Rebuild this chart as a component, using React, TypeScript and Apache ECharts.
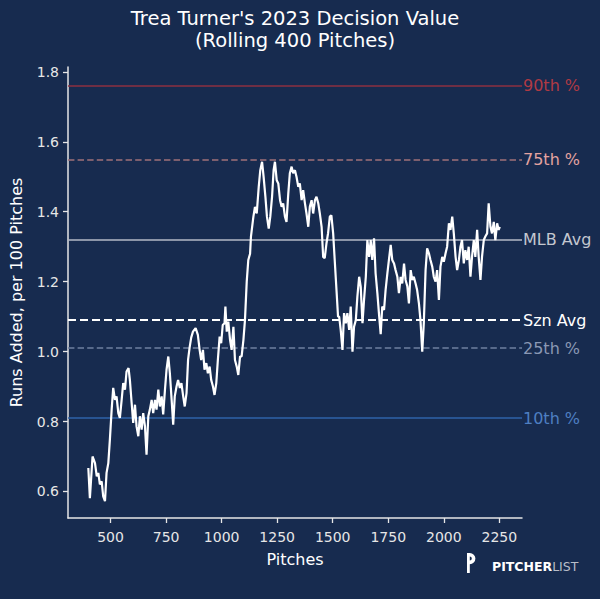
import { useEffect, useRef } from 'react'
import * as echarts from 'echarts'

const pitches = [
  400, 407, 419, 430, 438, 445, 452, 460, 467, 475, 482, 490, 497, 505, 512, 520, 527, 535, 542, 550,
  557, 565, 572, 581, 587, 595, 602, 610, 617, 625, 632, 640, 647, 655, 662, 670, 677, 685, 692, 700,
  707, 715, 722, 730, 737, 745, 752, 760, 767, 775, 782, 789, 797, 804, 812, 819, 827, 834, 842, 849,
  856, 863, 871, 883, 893, 901, 908, 916, 923, 931, 938, 946, 953, 961, 968, 976, 983, 991, 998, 1005,
  1013, 1017, 1023, 1030, 1038, 1045, 1053, 1060, 1068, 1075, 1083, 1090, 1098, 1105, 1113, 1120, 1128, 1132, 1143, 1150,
  1158, 1167, 1174, 1182, 1189, 1197, 1204, 1212, 1219, 1227, 1234, 1240, 1248, 1255, 1263, 1270, 1277, 1285, 1292, 1300,
  1307, 1315, 1322, 1330, 1337, 1345, 1352, 1360, 1367, 1375, 1382, 1390, 1397, 1405, 1412, 1420, 1427, 1435, 1442, 1450,
  1457, 1464, 1472, 1479, 1487, 1494, 1502, 1509, 1517, 1524, 1529, 1536, 1544, 1551, 1559, 1566, 1574, 1581, 1589, 1596,
  1604, 1611, 1619, 1626, 1634, 1641, 1649, 1656, 1664, 1671, 1678, 1686, 1693, 1701, 1708, 1716, 1723, 1731, 1738, 1746,
  1753, 1761, 1768, 1776, 1783, 1791, 1798, 1806, 1813, 1821, 1828, 1836, 1843, 1851, 1858, 1865, 1873, 1880, 1888, 1895,
  1903, 1910, 1918, 1925, 1933, 1940, 1948, 1955, 1963, 1970, 1978, 1985, 1993, 2000, 2008, 2015, 2023, 2030, 2038, 2045,
  2053, 2060, 2068, 2075, 2082, 2090, 2097, 2105, 2112, 2120, 2127, 2135, 2142, 2150, 2157, 2165, 2172, 2180, 2187, 2195,
  2202, 2210, 2217, 2225, 2232, 2240, 2247, 2252
]

const decisionValues = [
  0.667, 0.581, 0.7, 0.681, 0.643, 0.653, 0.62, 0.629, 0.586, 0.572, 0.653, 0.681, 0.748, 0.834, 0.896, 0.862, 0.872, 0.824, 0.81, 0.862,
  0.91, 0.891, 0.943, 0.953, 0.919, 0.853, 0.796, 0.848, 0.786, 0.758, 0.815, 0.777, 0.824, 0.786, 0.705, 0.815, 0.834, 0.862, 0.824, 0.862,
  0.834, 0.891, 0.843, 0.872, 0.82, 0.891, 0.948, 0.986, 0.938, 0.862, 0.791, 0.872, 0.9, 0.919, 0.896, 0.91, 0.872, 0.843, 0.881, 0.977,
  1.012, 1.04, 1.057, 1.067, 1.048, 1.005, 0.976, 1.005, 0.948, 0.967, 0.938, 0.957, 0.919, 0.9, 0.876, 0.91, 0.976, 1.043, 1.024, 1.076,
  1.081, 1.129, 1.057, 1.086, 1.033, 1.005, 1.071, 0.976, 0.957, 0.933, 0.986, 0.986, 1.033, 1.09, 1.2, 1.262, 1.28, 1.329, 1.386, 1.414,
  1.395, 1.471, 1.519, 1.543, 1.5, 1.443, 1.386, 1.352, 1.386, 1.443, 1.519, 1.543, 1.49, 1.481, 1.433, 1.414, 1.424, 1.386, 1.371, 1.452,
  1.51, 1.529, 1.51, 1.519, 1.5, 1.471, 1.481, 1.433, 1.462, 1.424, 1.395, 1.357, 1.414, 1.433, 1.395, 1.433, 1.443, 1.424, 1.395, 1.357,
  1.271, 1.267, 1.31, 1.338, 1.386, 1.39, 1.338, 1.262, 1.176, 1.1, 1.1, 1.062, 1.005, 1.11, 1.081, 1.11, 1.062, 1.129, 1.0, 1.071,
  1.09, 1.157, 1.214, 1.186, 1.081, 1.148, 1.214, 1.319, 1.271, 1.319, 1.262, 1.324, 1.224, 1.167, 1.11, 1.05, 1.129, 1.119, 1.176, 1.224,
  1.262, 1.305, 1.262, 1.252, 1.233, 1.214, 1.167, 1.214, 1.195, 1.252, 1.205, 1.186, 1.138, 1.233, 1.205, 1.214, 1.195, 1.176, 1.138, 1.09,
  1.0, 1.081, 1.233, 1.295, 1.281, 1.262, 1.243, 1.214, 1.2, 1.233, 1.148, 1.243, 1.271, 1.257, 1.281, 1.3, 1.367, 1.348, 1.386, 1.338,
  1.271, 1.233, 1.262, 1.3, 1.319, 1.252, 1.29, 1.262, 1.3, 1.214, 1.271, 1.319, 1.271, 1.348, 1.271, 1.205, 1.271, 1.319, 1.329, 1.338,
  1.424, 1.357, 1.338, 1.371, 1.319, 1.367, 1.348, 1.357
]

// reference lines drawn across the plot
const refLabels = ['90th %', '75th %', 'MLB Avg', 'Szn Avg', '25th %', '10th %']
const refValues = [1.764, 1.555, 1.318, 1.091, 1.006, 0.808]
const refLineColors = ['#8e3040', '#a0727a', '#b4bac6', '#ffffff', '#6f80a0', '#2f63a8']
const refLabelColors = ['#b03a44', '#e3a3a0', '#c3c7cf', '#ffffff', '#8a98b4', '#4e7fc2']
const refLineTypes = ['solid', 'dashed', 'solid', 'dashed', 'dashed', 'solid']

const xTicks = [500, 750, 1000, 1250, 1500, 1750, 2000, 2250]
const yTicks = [0.6, 0.8, 1.0, 1.2, 1.4, 1.6, 1.8]

const BG = '#172b4f'
const FONT = 'DejaVu Sans'

echarts.graphic.registerShape(
  'plLogo',
  echarts.graphic.extendPath(
    'M0 0 H2.8 A5.6 5.6 0 0 1 2.8 11.2 V20 H0 Z M2.8 3.6 V7.6 A2 2 0 0 0 2.8 3.6 Z',
    {}
  )
)

export default function App() {
  const ref = useRef<HTMLDivElement | null>(null)

  useEffect(() => {
    if (!ref.current) return
    document.body.style.margin = '0'
    document.body.style.background = BG
    const chart = echarts.init(ref.current, undefined, { renderer: 'svg' })

    const lineData = pitches.map((p, i) => [p, decisionValues[i]])

    const markData = refValues.map((v, i) => ({
      yAxis: v,
      lineStyle: {
        color: refLineColors[i],
        type: refLineTypes[i] as 'solid' | 'dashed',
        width: i === 3 ? 2 : 1.6
      },
      label: {
        show: true,
        position: 'end' as const,
        distance: 1,
        formatter: refLabels[i],
        color: refLabelColors[i],
        fontSize: 16,
        fontFamily: FONT
      }
    }))

    chart.setOption({
      animation: false,
      backgroundColor: BG,
      textStyle: { fontFamily: FONT },
      grid: { left: 68, right: 78, top: 67, bottom: 81, outerBoundsMode: 'none', containLabel: false },
      xAxis: {
        type: 'value',
        min: 308.5,
        max: 2352,
        name: 'Pitches',
        nameLocation: 'middle',
        nameGap: 33,
        nameTextStyle: { color: '#ffffff', fontSize: 16, fontFamily: FONT },
        splitLine: { show: false },
        axisLine: { show: true, onZero: false, lineStyle: { color: '#e6e6e6', width: 1.5 } },
        axisTick: {
          show: true,
          length: 5,
          customValues: xTicks,
          lineStyle: { color: '#e6e6e6', width: 1.3 }
        },
        axisLabel: {
          customValues: xTicks,
          color: '#e6e6e6',
          fontSize: 14,
          margin: 12,
          fontFamily: FONT,
          formatter: (v: number) => String(v)
        }
      },
      yAxis: {
        type: 'value',
        min: 0.524,
        max: 1.814,
        name: 'Runs Added, per 100 Pitches',
        nameLocation: 'middle',
        nameGap: 44,
        nameTextStyle: { color: '#ffffff', fontSize: 16, fontFamily: FONT },
        splitLine: { show: false },
        axisLine: { show: true, onZero: false, lineStyle: { color: '#e6e6e6', width: 1.5 } },
        axisTick: {
          show: true,
          length: 5,
          customValues: yTicks,
          lineStyle: { color: '#e6e6e6', width: 1.3 }
        },
        axisLabel: {
          customValues: yTicks,
          color: '#e6e6e6',
          fontSize: 14,
          margin: 9,
          fontFamily: FONT,
          formatter: (v: number) => v.toFixed(1)
        }
      },
      series: [
        {
          type: 'line',
          data: lineData,
          showSymbol: false,
          symbol: 'none',
          lineStyle: { color: '#ffffff', width: 2.2 },
          z: 3,
          markLine: {
            silent: true,
            symbol: ['none', 'none'],
            z: 2,
            data: markData
          }
        }
      ],
      graphic: [
        {
          type: 'text',
          x: 295,
          y: 7,
          style: {
            text: "Trea Turner's 2023 Decision Value\n(Rolling 400 Pitches)",
            align: 'center',
            verticalAlign: 'top',
            fill: '#ffffff',
            fontSize: 19.5,
            lineHeight: 22,
            fontFamily: FONT
          }
        },
        {
          type: 'plLogo',
          x: 467,
          y: 553,
          shape: {},
          style: { fill: '#ffffff' }
        },
        {
          type: 'text',
          x: 492,
          y: 566,
          style: {
            text: '{b|PITCHER}{l|LIST}',
            verticalAlign: 'middle',
            rich: {
              b: { fontSize: 12.5, fontWeight: 'bold', fill: '#ffffff', fontFamily: FONT },
              l: { fontSize: 12.5, fontWeight: 'normal', fill: '#b9bec8', fontFamily: FONT }
            }
          }
        }
      ]
    })

    return () => chart.dispose()
  }, [])

  return (
    <div
      ref={ref}
      style={{ position: 'fixed', left: 0, top: 0, width: 600, height: 599 }}
    />
  )
}
